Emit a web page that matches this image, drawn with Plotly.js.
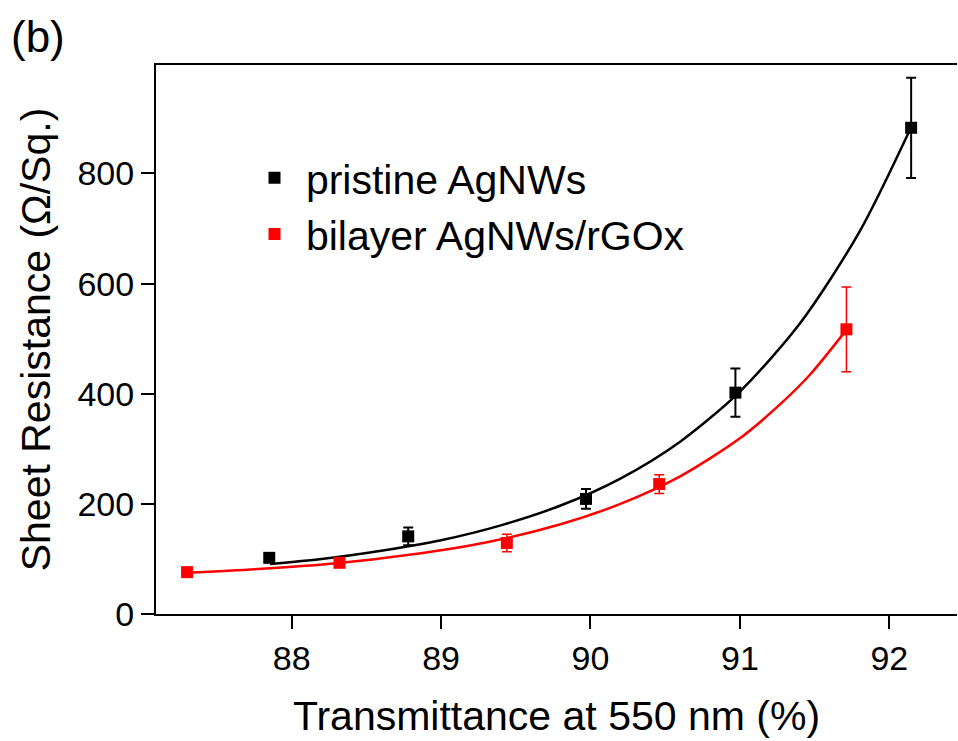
<!DOCTYPE html>
<html>
<head>
<meta charset="utf-8">
<script src="https://cdn.plot.ly/plotly-3.0.1.min.js"></script>
<style>html,body{margin:0;padding:0;background:#fff;}#chart{width:958px;height:741px;}</style>
</head>
<body>
<div id="chart"></div>
<script>
// Measured data points
const pristineX = [87.85, 88.78, 89.97, 90.97, 92.146];
const pristineY = [102, 141, 209, 402, 883];
const pristineErr = [5, 16, 18, 44, 91];

const bilayerX = [87.30, 88.32, 89.44, 90.46, 91.713];
const bilayerY = [76, 93, 129, 236, 517];
const bilayerErr = [4, 5, 16, 17, 77];

// Fit curves
const pristineFitX = [87.855, 88.2, 88.6, 89.0, 89.4, 89.8, 90.2, 90.6, 91.0, 91.4, 91.8, 92.146];
const pristineFitY = [91, 100, 115, 134, 161, 197, 246, 313, 404, 527, 694, 884];
const bilayerFitX = [87.30, 87.8, 88.3, 88.8, 89.3, 89.8, 90.2, 90.6, 91.0, 91.27, 91.47, 91.713];
const bilayerFitY = [75, 82, 92, 108, 130, 163, 200, 250, 319, 381, 435, 516];

const seriesNames = ['pristine AgNWs', 'bilayer AgNWs/rGOx'];
const xTicks = [88, 89, 90, 91, 92];
const yTicks = [0, 200, 400, 600, 800];

const FONT = 'Liberation Sans, Arial, sans-serif';

const traces = [
  {x: pristineFitX, y: pristineFitY, mode: 'lines', line: {color: '#000', width: 2.5, shape: 'spline', smoothing: 0.8}, showlegend: false, hoverinfo: 'skip'},
  {x: bilayerFitX, y: bilayerFitY, mode: 'lines', line: {color: '#ff0000', width: 2.5, shape: 'spline', smoothing: 0.8}, showlegend: false, hoverinfo: 'skip'},
  {x: pristineX, y: pristineY, name: '\u00a0' + seriesNames[0], mode: 'markers',
   marker: {symbol: 'square', size: 12, color: '#000'},
   error_y: {type: 'data', array: pristineErr, visible: true, color: '#000', thickness: 2, width: 5}},
  {x: bilayerX, y: bilayerY, name: '\u00a0' + seriesNames[1], mode: 'markers',
   marker: {symbol: 'square', size: 12, color: '#ff0000'},
   error_y: {type: 'data', array: bilayerErr, visible: true, color: '#ff0000', thickness: 1.5, width: 5}}
];

const layout = {
  width: 958, height: 741,
  margin: {l: 156, r: 1, t: 65, b: 127},
  paper_bgcolor: '#fff', plot_bgcolor: '#fff',
  font: {family: FONT, color: '#000'},
  showlegend: true,
  legend: {x: 0.123, y: 0.855, xanchor: 'left', yanchor: 'top', bgcolor: 'rgba(0,0,0,0)',
           font: {family: FONT, size: 41, color: '#000'}, tracegroupgap: 0},
  xaxis: {
    range: [87.092, 92.453], tickvals: xTicks, ticktext: xTicks.map(String),
    showgrid: false, zeroline: false, showline: true, mirror: true, linecolor: '#000', linewidth: 2,
    ticks: 'outside', ticklen: 13, tickwidth: 2, tickcolor: '#000',
    tickfont: {family: FONT, size: 34, color: '#000'},
    title: {text: 'Transmittance at 550 nm (%)', font: {family: FONT, size: 41, color: '#000'}, standoff: 26}
  },
  yaxis: {
    range: [0, 997], tickvals: yTicks, ticktext: yTicks.map(String),
    showgrid: false, zeroline: false, showline: true, linecolor: '#000', linewidth: 2,
    ticks: 'outside', ticklen: 13, tickwidth: 2, tickcolor: '#000',
    tickfont: {family: FONT, size: 34, color: '#000'},
    title: {text: 'Sheet Resistance (Ω/Sq.)', font: {family: FONT, size: 41, color: '#000'}, standoff: 14}
  },
  annotations: [
    {text: '(b)', xref: 'paper', yref: 'paper', x: -0.183, y: 1.1, xanchor: 'left', yanchor: 'top',
     showarrow: false, font: {family: FONT, size: 44, color: '#000'}}
  ]
};

Plotly.newPlot('chart', traces, layout, {displayModeBar: false, staticPlot: true});
</script>
</body>
</html>
